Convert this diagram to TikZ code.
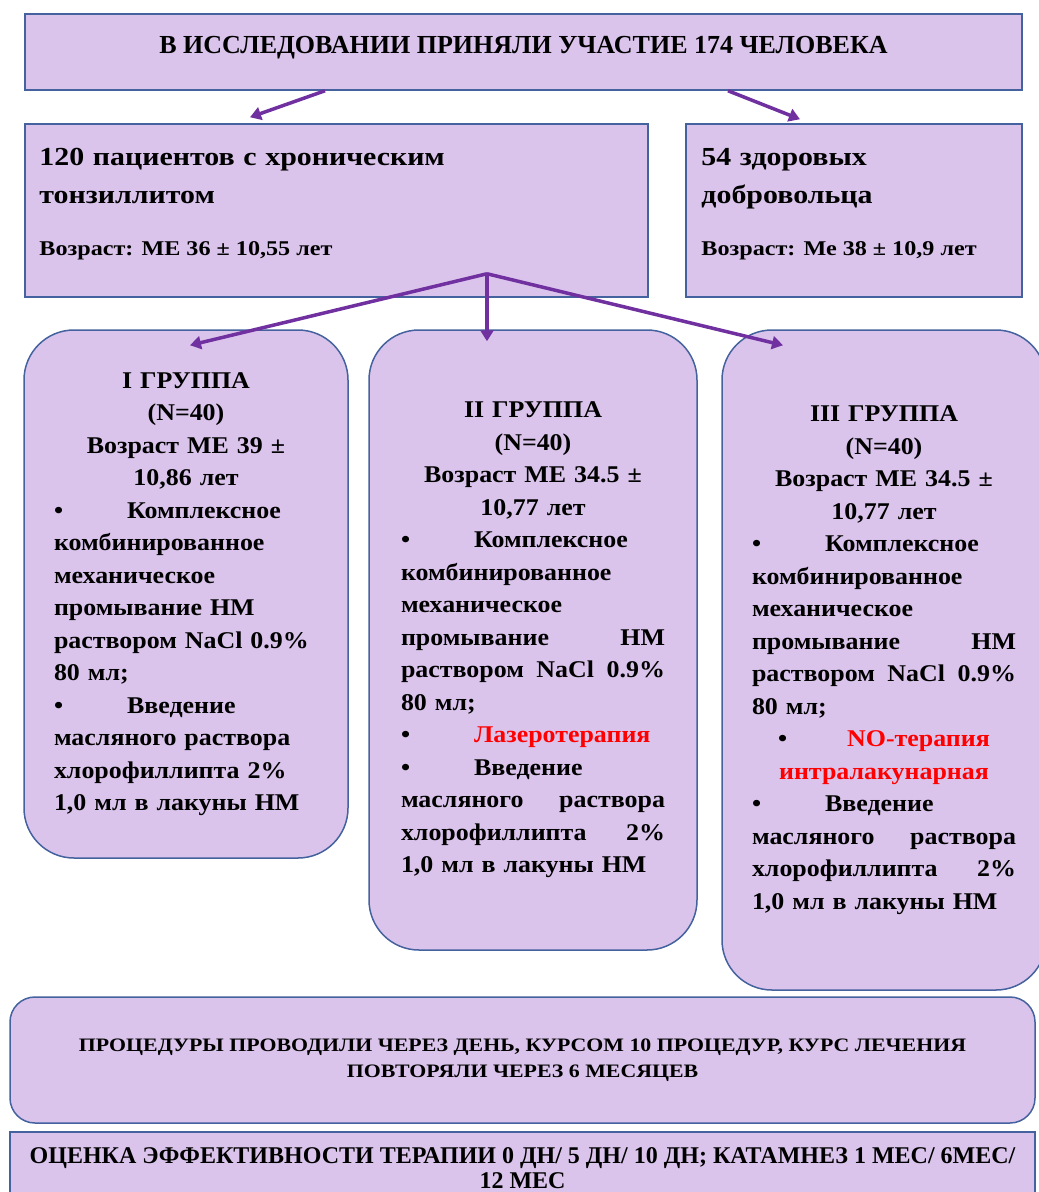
\documentclass[tikz,border=0pt]{standalone}
\usepackage{fontspec}
\setmainfont{Liberation Serif}
\newfontfamily\capsfont{Liberation Serif}
\newfontfamily\widefont[FakeStretch=1.15]{Liberation Serif}
\newfontfamily\grpfont[FakeStretch=1.08]{Liberation Serif}
\usetikzlibrary{arrows.meta}

\definecolor{boxfill}{RGB}{219,196,236}
\definecolor{boxline}{RGB}{68,98,158}
\definecolor{arrowpurple}{RGB}{112,48,160}
\definecolor{redtext}{RGB}{255,0,0}

\newcommand\bul{\textbullet\hspace{64pt}}
\newcommand\midline[1]{\makebox[\linewidth]{#1}}
\newcommand\fullline[2]{\makebox[\linewidth]{#1\hfill#2}}
\newcommand\redtxt[1]{\textcolor{redtext}{#1}}
\newcommand\agefont{\fontsize{21}{24}\selectfont\spaceskip=0pt\xspaceskip=0pt}

\begin{document}
\begin{tikzpicture}[
  x=1pt, y=-1pt,
  boxstyle/.style={
    draw=boxline,
    fill=boxfill,
    line width=1.5pt,
    inner sep=0pt
  },
  grpstyle/.style={
    boxstyle,
    rounded corners=50pt,
    text width=264pt,
    align=left,
    font=\grpfont\bfseries\fontsize{24}{32.5}\selectfont
  },
  arrstyle/.style={
    draw=arrowpurple,
    line width=3.5pt,
    -{Triangle[length=11pt,width=13pt]}
  }
]
  \useasboundingbox (0,0) rectangle (1039,1192);

  % top row
  \node[boxstyle, minimum width=997pt, minimum height=76pt] (study) at (523.5,52) {};
  \node[anchor=base, font=\capsfont\bfseries\fontsize{26}{30}\selectfont] (study-txt)
    at ([yshift=-1pt]study.center) {В ИССЛЕДОВАНИИ ПРИНЯЛИ УЧАСТИЕ 174 ЧЕЛОВЕКА};

  % patients and volunteers
  \node[boxstyle, minimum width=623pt, minimum height=173pt] (patients) at (336.5,210.5) {};
  \node[boxstyle, minimum width=336pt, minimum height=173pt] (healthy) at (854,210.5) {};
  \node[anchor=base west, inner sep=0pt, text width=600pt, align=left,
        font=\widefont\bfseries\fontsize{26}{38}\selectfont] (patients-txt)
    at ([xshift=15pt,yshift=-42pt]patients.north west)
    {120 пациентов с хроническим\\тонзиллитом\\[14pt]
     {\agefont Возраст: МЕ 36 ± 10,55 лет}};
  \node[anchor=base west, inner sep=0pt, text width=310pt, align=left,
        font=\widefont\bfseries\fontsize{26}{38}\selectfont] (healthy-txt)
    at ([xshift=16pt,yshift=-42pt]healthy.north west)
    {54 здоровых\\добровольца\\[14pt]
     {\agefont Возраст: Ме 38 ± 10,9 лет}};

  % three groups
  \node[grpstyle, minimum width=324pt, minimum height=528pt] (g1) at (186,594) {%
    \midline{I ГРУППА}\\
    \midline{(N=40)}\\
    \midline{Возраст МЕ 39 ±}\\
    \midline{10,86 лет}\\
    \bul Комплексное\\
    комбинированное\\
    механическое\\
    промывание НМ\\
    раствором NaCl 0.9\%\\
    80 мл;\\
    \bul Введение\\
    масляного раствора\\
    хлорофиллипта 2\%\\
    1,0 мл в лакуны НМ};
  \node[grpstyle, minimum width=328pt, minimum height=620pt] (g2) at (533,640) {%
    \midline{II ГРУППА}\\
    \midline{(N=40)}\\
    \midline{Возраст МЕ 34.5 ±}\\
    \midline{10,77 лет}\\
    \bul Комплексное\\
    комбинированное\\
    механическое\\
    \fullline{промывание}{НМ}\\
    \makebox[\linewidth]{раствором\hfill NaCl\hfill 0.9\%}\\
    80 мл;\\
    \bul\redtxt{Лазеротерапия}\\
    \bul Введение\\
    \fullline{масляного}{раствора}\\
    \fullline{хлорофиллипта}{2\%}\\
    1,0 мл в лакуны НМ};
  \node[grpstyle, minimum width=324pt, minimum height=660pt] (g3) at (884,660) {%
    \midline{III ГРУППА}\\
    \midline{(N=40)}\\
    \midline{Возраст МЕ 34.5 ±}\\
    \midline{10,77 лет}\\
    \bul Комплексное\\
    комбинированное\\
    механическое\\
    \fullline{промывание}{НМ}\\
    \makebox[\linewidth]{раствором\hfill NaCl\hfill 0.9\%}\\
    80 мл;\\
    \midline{\textbullet\hspace{60pt}\redtxt{NO-терапия}}\\
    \midline{\redtxt{интралакунарная}}\\
    \bul Введение\\
    \fullline{масляного}{раствора}\\
    \fullline{хлорофиллипта}{2\%}\\
    1,0 мл в лакуны НМ};

  % bottom boxes
  \node[boxstyle, rounded corners=25pt, minimum width=1025pt, minimum height=126pt,
        align=center, font=\widefont\bfseries\fontsize{19}{26}\selectfont] (proc) at (522.5,1060)
    {ПРОЦЕДУРЫ ПРОВОДИЛИ ЧЕРЕЗ ДЕНЬ, КУРСОМ 10 ПРОЦЕДУР, КУРС ЛЕЧЕНИЯ\\ПОВТОРЯЛИ ЧЕРЕЗ 6 МЕСЯЦЕВ};
  \node[boxstyle, minimum width=1025pt, minimum height=72pt,
        align=center, font=\capsfont\bfseries\fontsize{24}{25}\selectfont] (eval) at (522.5,1168)
    {ОЦЕНКА ЭФФЕКТИВНОСТИ ТЕРАПИИ 0 ДН/ 5 ДН/ 10 ДН; КАТАМНЕЗ 1 МЕС/ 6МЕС/\\12 МЕС};

  % arrows
  \coordinate (study-l) at ([xshift=-198.5pt]study.south);
  \coordinate (study-r) at ([xshift=204.5pt]study.south);
  \coordinate (patients-in) at ([xshift=-86.5pt,yshift=6pt]patients.north);
  \coordinate (healthy-in) at ([xshift=-54pt,yshift=4pt]healthy.north);
  \coordinate (hub) at ([xshift=150.5pt,yshift=24pt]patients.south);
  \coordinate (g1-in) at ([xshift=4pt,yshift=-16pt]g1.north);
  \coordinate (g2-in) at ([xshift=-46pt,yshift=-12pt]g2.north);
  \coordinate (g3-in) at ([xshift=-101pt,yshift=-16pt]g3.north);

  \draw[arrstyle] (study-l) -- (patients-in);
  \draw[arrstyle] (study-r) -- (healthy-in);
  \foreach \g in {g1,g2,g3}
    \draw[arrstyle] (hub) -- (\g-in);
\end{tikzpicture}
\end{document}
